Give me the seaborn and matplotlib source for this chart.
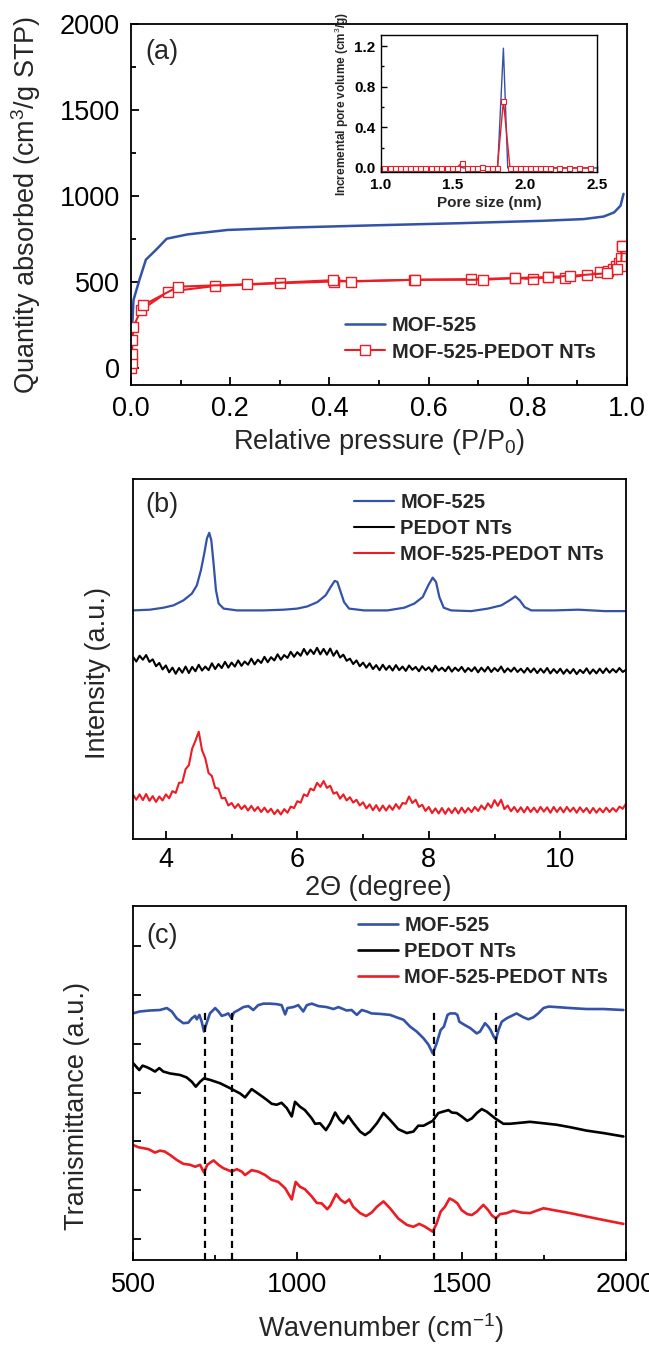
import numpy as np
import pandas as pd
import matplotlib
matplotlib.use("Agg")
import matplotlib.pyplot as plt
import seaborn as sns
from matplotlib.ticker import MultipleLocator

# ---------------- (a) N2 isotherms ----------------
mof_p = [0.001, 0.003, 0.005, 0.017, 0.030, 0.051, 0.072, 0.114, 0.195, 0.324, 0.492,
         0.660, 0.828, 0.912, 0.953, 0.974, 0.987, 0.993]
mof_q = [250, 276, 394, 512, 629, 688, 751, 776, 802, 816, 829, 841, 855, 865, 880, 904, 943, 1012]

comp_ads_p = [0.001, 0.002, 0.002, 0.003, 0.005, 0.020, 0.075, 0.170, 0.300, 0.410, 0.570,
              0.685, 0.775, 0.810, 0.840, 0.876, 0.920, 0.946, 0.961, 0.971, 0.978, 0.984,
              0.987, 0.990]
comp_ads_q = [0, 30, 80, 160, 240, 335, 443, 476, 492, 502, 512, 516, 522, 516, 528, 522,
              541, 555, 561, 575, 590, 610, 639, 708]
comp_des_p = [0.990, 0.988, 0.980, 0.960, 0.886, 0.840, 0.775, 0.709, 0.573, 0.443, 0.408,
              0.234, 0.095, 0.025]
comp_des_q = [708, 590, 575, 550, 535, 528, 522, 512, 512, 502, 510, 486, 472, 365]

# inset: pore size distribution
psd_mof_x = [1.00, 1.55, 1.56, 1.57, 1.81, 1.85, 1.88, 2.50]
psd_mof_y = [0.0, 0.0, 0.01, 0.0, 0.0, 1.18, 0.0, 0.0]
psd_comp_x = [1.018, 1.060, 1.095, 1.130, 1.165, 1.199, 1.234, 1.269, 1.304, 1.344, 1.385,
              1.420, 1.455, 1.490, 1.525, 1.560, 1.599, 1.634, 1.669, 1.704, 1.738, 1.773,
              1.808, 1.850, 1.896, 1.931, 1.966, 2.001, 2.036, 2.071, 2.106, 2.140, 2.175,
              2.238, 2.308, 2.377, 2.454]
psd_comp_y = [0, 0, 0, 0, 0, 0, 0, 0, 0, 0, 0, 0, 0, 0, 0, 0.05, 0, 0, 0, 0.01, 0, 0,
              0, 0.66, 0, 0, 0, 0, 0, 0, 0, 0, 0, 0, 0, 0, 0]

# ---------------- (b) XRD ----------------
xrd_mof_x = [3.505, 3.759, 3.963, 4.116, 4.268, 4.395, 4.472, 4.533, 4.584, 4.625, 4.660,
             4.691, 4.726, 4.762, 4.803, 4.879, 5.083, 5.490, 5.795, 5.999, 6.151, 6.304,
             6.431, 6.507, 6.568, 6.609, 6.660, 6.711, 6.787, 7.016, 7.372, 7.627, 7.780,
             7.907, 7.993, 8.059, 8.110, 8.161, 8.227, 8.339, 8.645, 8.899, 9.103, 9.230,
             9.316, 9.383, 9.459, 9.561, 9.917, 10.273, 10.680, 10.986]
xrd_mof_y = [63.5, 63.7, 64.25, 64.9, 66.3, 68.15, 70.5, 74.65, 79.3, 83.5, 85.05,
             83.0, 76.5, 69.1, 65.4, 64.0, 63.5, 63.5, 63.7, 64.0, 64.6, 65.8,
             67.7, 70.0, 71.7, 71.4, 68.6, 65.8, 64.0, 63.5, 63.5, 64.25, 65.4,
             67.2, 70.5, 72.6, 71.4, 67.2, 64.25, 63.5, 63.3, 64.0, 64.9, 66.3,
             67.4, 66.3, 64.4, 63.5, 63.5, 63.7, 63.3, 63.3]

xrd_grid = [3.50, 3.55, 3.60, 3.65, 3.70, 3.75, 3.80, 3.85, 3.90, 3.95,
            4.00, 4.05, 4.10, 4.15, 4.20, 4.25, 4.30, 4.35, 4.40, 4.45,
            4.50, 4.55, 4.60, 4.65, 4.70, 4.75, 4.80, 4.85, 4.90, 4.95,
            5.00, 5.05, 5.10, 5.15, 5.20, 5.25, 5.30, 5.35, 5.40, 5.45,
            5.50, 5.55, 5.60, 5.65, 5.70, 5.75, 5.80, 5.85, 5.90, 5.95,
            6.00, 6.05, 6.10, 6.15, 6.20, 6.25, 6.30, 6.35, 6.40, 6.45,
            6.50, 6.55, 6.60, 6.65, 6.70, 6.75, 6.80, 6.85, 6.90, 6.95,
            7.00, 7.05, 7.10, 7.15, 7.20, 7.25, 7.30, 7.35, 7.40, 7.45,
            7.50, 7.55, 7.60, 7.65, 7.70, 7.75, 7.80, 7.85, 7.90, 7.95,
            8.00, 8.05, 8.10, 8.15, 8.20, 8.25, 8.30, 8.35, 8.40, 8.45,
            8.50, 8.55, 8.60, 8.65, 8.70, 8.75, 8.80, 8.85, 8.90, 8.95,
            9.00, 9.05, 9.10, 9.15, 9.20, 9.25, 9.30, 9.35, 9.40, 9.45,
            9.50, 9.55, 9.60, 9.65, 9.70, 9.75, 9.80, 9.85, 9.90, 9.95,
            10.00, 10.05, 10.10, 10.15, 10.20, 10.25, 10.30, 10.35, 10.40, 10.45,
            10.50, 10.55, 10.60, 10.65, 10.70, 10.75, 10.80, 10.85, 10.90, 10.95,
            11.00]

xrd_pedot_y = [50.6, 49.3, 50.9, 49.8, 51.1, 49.2, 49.9, 48.0, 48.9, 47.1,
               48.2, 46.3, 47.6, 45.9, 47.5, 46.2, 47.9, 46.1, 47.8, 46.6,
               48.4, 46.8, 47.9, 46.9, 48.8, 47.2, 48.6, 47.5, 49.2, 47.6,
               49.0, 47.9, 49.6, 48.1, 49.3, 48.4, 50.1, 48.5, 49.8, 48.9,
               50.6, 49.1, 50.5, 49.6, 51.3, 49.8, 51.1, 50.3, 52.0, 50.6,
               51.9, 50.9, 52.8, 51.2, 52.6, 51.4, 53.1, 51.3, 52.8, 51.2,
               52.9, 50.9, 52.3, 50.4, 51.2, 49.5, 50.1, 48.6, 49.6, 48.0,
               49.0, 47.6, 48.8, 47.2, 48.3, 46.9, 48.4, 47.0, 48.1, 46.8,
               48.3, 46.9, 47.9, 46.7, 48.2, 47.0, 47.8, 46.6, 48.0, 46.9,
               47.7, 46.5, 48.1, 46.8, 47.6, 46.6, 47.9, 46.5, 47.6, 46.7,
               47.8, 46.4, 47.5, 46.6, 47.7, 46.3, 47.6, 46.5, 47.8, 46.4,
               47.5, 46.6, 47.9, 46.3, 47.4, 46.5, 47.6, 46.4, 47.3, 46.2,
               47.5, 46.3, 47.4, 46.1, 47.3, 46.2, 47.5, 46.0, 47.2, 46.1,
               47.3, 45.9, 47.1, 46.0, 47.2, 45.8, 47.0, 46.1, 47.4, 45.9,
               47.1, 46.0, 47.3, 46.1, 47.4, 46.2, 47.2, 46.3, 47.5, 46.4,
               47.0]

xrd_comp_y = [12.3, 10.9, 12.4, 10.8, 12.5, 10.6, 11.9, 10.3, 11.8, 10.7,
              12.4, 11.3, 13.3, 12.8, 15.6, 15.7, 19.4, 20.5, 25.1, 27.3,
              29.8, 24.7, 22.4, 18.3, 17.5, 14.2, 14.0, 11.3, 11.4, 9.3,
              10.0, 8.6, 9.7, 8.3, 9.3, 7.9, 9.2, 7.8, 8.9, 7.5,
              8.7, 7.4, 8.4, 6.9, 8.1, 6.8, 8.3, 7.3, 9.0, 8.6,
              10.5, 10.1, 12.4, 11.9, 14.0, 13.5, 15.6, 14.5, 16.1, 14.2,
              14.8, 12.6, 13.0, 11.2, 12.4, 10.7, 11.6, 10.1, 10.9, 9.3,
              10.2, 8.5, 9.6, 8.0, 9.4, 7.8, 9.3, 7.9, 9.3, 8.1,
              9.7, 8.4, 10.0, 9.8, 11.8, 10.0, 10.9, 8.9, 9.5, 7.8,
              8.9, 7.2, 8.5, 7.1, 8.6, 7.0, 8.5, 7.2, 8.6, 7.1,
              8.7, 7.3, 8.6, 7.5, 8.9, 7.8, 9.3, 8.2, 9.9, 8.7,
              10.8, 9.2, 10.9, 8.3, 9.3, 7.7, 8.9, 7.5, 8.8, 7.4,
              8.9, 7.5, 8.7, 7.4, 8.9, 7.6, 8.8, 7.3, 8.9, 7.5,
              8.8, 7.4, 8.9, 7.6, 8.7, 7.3, 8.8, 7.5, 8.6, 7.2,
              8.6, 7.3, 8.5, 7.4, 8.7, 7.5, 8.6, 7.6, 9.0, 8.4,
              9.8]

# ---------------- (c) FTIR ----------------
ir_mof_x = [499, 521, 552, 582, 603, 618, 633, 653, 668, 679, 689, 694, 702, 709, 716, 724,
            734, 750, 760, 770, 780, 790, 800, 807, 821, 836, 851, 866, 881, 897, 917, 937,
            952, 963, 970, 988, 1003, 1018, 1029, 1044, 1064, 1089, 1110, 1125, 1150, 1165,
            1181, 1196, 1211, 1226, 1252, 1282, 1302, 1323, 1343, 1363, 1384, 1399, 1412,
            1424, 1436, 1446, 1457, 1465, 1480, 1487, 1493, 1510, 1526, 1546, 1556, 1571,
            1581, 1588, 1597, 1604, 1612, 1622, 1637, 1652, 1667, 1688, 1703, 1718, 1733,
            1749, 1764, 1789, 1830, 1880, 1931, 1992]
ir_mof_y = [4.62, 4.66, 4.68, 4.69, 4.73, 4.66, 4.52, 4.42, 4.43, 4.52, 4.57, 4.50, 4.59,
            4.45, 4.25, 4.42, 4.62, 4.73, 4.66, 4.57, 4.59, 4.62, 4.52, 4.64, 4.69, 4.75,
            4.77, 4.69, 4.79, 4.82, 4.82, 4.81, 4.79, 4.60, 4.73, 4.75, 4.79, 4.66, 4.79,
            4.82, 4.77, 4.75, 4.71, 4.75, 4.68, 4.69, 4.59, 4.69, 4.66, 4.62, 4.61, 4.59,
            4.54, 4.49, 4.35, 4.25, 4.11, 3.98, 3.80, 4.01, 4.28, 4.35, 4.59, 4.62, 4.62,
            4.59, 4.45, 4.38, 4.32, 4.21, 4.25, 4.42, 4.35, 4.28, 4.15, 4.08, 4.28, 4.45,
            4.52, 4.57, 4.62, 4.54, 4.50, 4.54, 4.62, 4.73, 4.76, 4.75, 4.73, 4.71, 4.71,
            4.69]

ir_pedot_x = [499, 511, 519, 529, 542, 554, 567, 580, 592, 613, 643, 663, 679, 691, 704, 716,
              734, 765, 795, 826, 841, 861, 876, 897, 907, 922, 937, 952, 968, 983, 993,
              1008, 1023, 1044, 1054, 1069, 1087, 1100, 1115, 1128, 1140, 1155, 1171, 1191,
              1206, 1221, 1242, 1262, 1282, 1307, 1333, 1353, 1368, 1384, 1412, 1429, 1444,
              1460, 1470, 1485, 1500, 1517, 1531, 1546, 1561, 1576, 1602, 1627, 1647, 1678,
              1708, 1749, 1789, 1830, 1880, 1931, 1992]
ir_pedot_y = [3.61, 3.52, 3.46, 3.55, 3.52, 3.48, 3.43, 3.50, 3.43, 3.39, 3.36, 3.31, 3.22,
              3.12, 3.22, 3.29, 3.26, 3.19, 3.09, 2.98, 2.90, 3.07, 3.00, 2.90, 2.85, 2.77,
              2.75, 2.79, 2.68, 2.51, 2.81, 2.71, 2.64, 2.47, 2.36, 2.37, 2.23, 2.37, 2.59,
              2.45, 2.37, 2.52, 2.37, 2.20, 2.13, 2.20, 2.37, 2.58, 2.44, 2.25, 2.17, 2.20,
              2.32, 2.32, 2.42, 2.58, 2.61, 2.64, 2.59, 2.58, 2.51, 2.42, 2.47, 2.58, 2.66,
              2.61, 2.47, 2.36, 2.36, 2.38, 2.40, 2.37, 2.34, 2.29, 2.22, 2.17, 2.10]

ir_comp_x = [499, 516, 532, 547, 567, 582, 597, 613, 633, 653, 674, 689, 704, 716, 726, 745,
             760, 775, 790, 800, 816, 831, 841, 861, 881, 902, 922, 942, 963, 983, 995,
             1008, 1023, 1044, 1059, 1074, 1091, 1100, 1118, 1132, 1145, 1158, 1170, 1191,
             1209, 1226, 1242, 1262, 1282, 1307, 1333, 1353, 1371, 1389, 1412, 1424, 1436,
             1449, 1463, 1475, 1487, 1500, 1517, 1531, 1546, 1566, 1581, 1591, 1604, 1617,
             1637, 1657, 1683, 1708, 1728, 1749, 1789, 1830, 1880, 1931, 1992]
ir_comp_y = [1.93, 1.88, 1.86, 1.84, 1.77, 1.81, 1.79, 1.72, 1.62, 1.54, 1.52, 1.48, 1.52,
             1.36, 1.52, 1.61, 1.52, 1.45, 1.41, 1.38, 1.43, 1.38, 1.31, 1.41, 1.38, 1.31,
             1.21, 1.17, 1.04, 0.81, 1.17, 1.07, 1.02, 0.87, 0.74, 0.73, 0.61, 0.68, 0.92,
             0.80, 0.74, 0.81, 0.66, 0.53, 0.47, 0.54, 0.66, 0.77, 0.63, 0.42, 0.29, 0.25,
             0.31, 0.25, 0.15, 0.32, 0.56, 0.66, 0.83, 0.79, 0.73, 0.59, 0.51, 0.49, 0.56,
             0.70, 0.59, 0.49, 0.42, 0.51, 0.53, 0.58, 0.54, 0.53, 0.58, 0.63, 0.58, 0.53,
             0.46, 0.39, 0.31]

ir_marks = [718, 800, 1415, 1603]
ir_mark_top = 4.7

labels3 = ["MOF-525", "PEDOT NTs", "MOF-525-PEDOT NTs"]

BLUE = "#3352A8"
RED = "#ED1C24"
BLACK = "#000000"

# ---------------- style ----------------
sns.set_theme(style="ticks")
plt.rcParams['font.family'] = ['Liberation Sans', 'DejaVu Sans']
plt.rcParams['mathtext.fontset'] = 'custom'
plt.rcParams['mathtext.rm'] = 'Liberation Sans'
plt.rcParams['mathtext.it'] = 'Liberation Sans:italic'
plt.rcParams['mathtext.bf'] = 'Liberation Sans:bold'
plt.rcParams['axes.linewidth'] = 1.3
plt.rcParams['axes.edgecolor'] = 'black'

FS = 19.5
LFS = 14.5

fig = plt.figure(figsize=(6.49, 13.54), dpi=100)
W, H = 649.0, 1354.0


def box(l, t, r, b):
    return [l / W, 1 - b / H, (r - l) / W, (b - t) / H]


def style_ticks(ax, major=6, minor=3.5, width=1.3, pad=7, size=FS):
    ax.tick_params(which='both', direction='in', top=False, right=False,
                   width=width, colors='black')
    ax.tick_params(which='major', length=major, labelsize=size, pad=pad)
    ax.tick_params(which='minor', length=minor)
    for s in ax.spines.values():
        s.set_visible(True)
        s.set_linewidth(width)
        s.set_color('black')


# ---------------- panel (a) ----------------
axA = fig.add_axes(box(131, 24, 627, 385))
sns.lineplot(x=mof_p, y=mof_q, ax=axA, color=BLUE, lw=1.8, sort=False,
             estimator=None, label="MOF-525")
sns.lineplot(x=comp_ads_p, y=comp_ads_q, ax=axA, color=RED, lw=1.5, sort=False,
             estimator=None, marker='s', markersize=7.5, markerfacecolor='white',
             markeredgecolor=RED, markeredgewidth=1.0, label="MOF-525-PEDOT NTs")
sns.lineplot(x=comp_des_p, y=comp_des_q, ax=axA, color=RED, lw=1.5, sort=False,
             estimator=None, marker='s', markersize=7.5, markerfacecolor='white',
             markeredgecolor=RED, markeredgewidth=1.0)
axA.set_xlim(0, 1.0)
axA.set_ylim(-100, 2000)
axA.xaxis.set_major_locator(MultipleLocator(0.2))
axA.xaxis.set_minor_locator(MultipleLocator(0.1))
axA.yaxis.set_major_locator(MultipleLocator(500))
axA.yaxis.set_minor_locator(MultipleLocator(250))
axA.set_xticks([0, 0.2, 0.4, 0.6, 0.8, 1.0])
axA.set_xticklabels(["0.0", "0.2", "0.4", "0.6", "0.8", "1.0"])
style_ticks(axA, pad=8)
axA.set_xlabel("Relative pressure (P/P$_0$)", fontsize=FS)
axA.set_ylabel("Quantity absorbed (cm$^3$/g STP)", fontsize=FS)
axA.xaxis.set_label_coords(0.5, -0.115)
axA.yaxis.set_label_coords(-0.178, 0.5)
axA.text(0.0625, 0.922, "(a)", transform=axA.transAxes, fontsize=FS,
         ha='center', va='center')
axA.legend(loc='upper left', bbox_to_anchor=(0.431, 0.191), frameon=False,
           borderpad=0, borderaxespad=0, handlelength=2.0, handletextpad=0.35,
           labelspacing=0.37, prop={'weight': 'bold', 'size': LFS})

# inset
axI = fig.add_axes(box(381, 35, 597, 172))
sns.lineplot(x=psd_mof_x, y=psd_mof_y, ax=axI, color=BLUE, lw=1.0, sort=False,
             estimator=None)
sns.lineplot(x=psd_comp_x, y=psd_comp_y, ax=axI, color=RED, lw=1.0, sort=False,
             estimator=None, marker='s', markersize=3.6, markerfacecolor='white',
             markeredgecolor=RED, markeredgewidth=0.8)
axI.set_xlim(1.0, 2.5)
axI.set_ylim(-0.04, 1.31)
axI.xaxis.set_major_locator(MultipleLocator(0.5))
axI.xaxis.set_minor_locator(MultipleLocator(0.25))
axI.yaxis.set_major_locator(MultipleLocator(0.4))
axI.yaxis.set_minor_locator(MultipleLocator(0.2))
style_ticks(axI, major=4, minor=2.5, width=1.0, pad=4, size=11)
for t in axI.get_xticklabels() + axI.get_yticklabels():
    t.set_fontweight('bold')
axI.set_xlabel("Pore size (nm)", fontsize=11, fontweight='bold', labelpad=3)
axI.set_ylabel("Incremental pore volume (cm$^3$/g)", fontsize=8.5, fontweight='bold',
               labelpad=2)

# ---------------- panel (b) ----------------
axB = fig.add_axes(box(133, 479, 626, 839))
sns.lineplot(x=xrd_mof_x, y=xrd_mof_y, ax=axB, color=BLUE, lw=1.6, sort=False,
             estimator=None, label=labels3[0])
sns.lineplot(x=xrd_grid, y=xrd_pedot_y, ax=axB, color=BLACK, lw=1.5, sort=False,
             estimator=None, label=labels3[1])
sns.lineplot(x=xrd_grid, y=xrd_comp_y, ax=axB, color=RED, lw=1.5, sort=False,
             estimator=None, label=labels3[2])
axB.set_xlim(3.5, 11.0)
axB.set_ylim(0, 100)
axB.xaxis.set_major_locator(MultipleLocator(2))
axB.xaxis.set_minor_locator(MultipleLocator(1))
axB.set_yticks([])
style_ticks(axB, pad=6)
axB.set_xlabel("2\u0398 (degree)", fontsize=FS)
axB.set_ylabel("Intensity (a.u.)", fontsize=FS)
axB.xaxis.set_label_coords(0.497, -0.1)
axB.yaxis.set_label_coords(-0.045, 0.46)
axB.text(0.059, 0.928, "(b)", transform=axB.transAxes, fontsize=FS,
         ha='center', va='center')
axB.legend(loc='upper left', bbox_to_anchor=(0.448, 0.962), frameon=False,
           borderpad=0, borderaxespad=0, handlelength=2.0, handletextpad=0.3,
           labelspacing=0.35, prop={'weight': 'bold', 'size': LFS})

# ---------------- panel (c) ----------------
axC = fig.add_axes(box(133, 906, 626, 1260))
sns.lineplot(x=ir_mof_x, y=ir_mof_y, ax=axC, color=BLUE, lw=1.9, sort=False,
             estimator=None, label=labels3[0])
sns.lineplot(x=ir_pedot_x, y=ir_pedot_y, ax=axC, color=BLACK, lw=1.9, sort=False,
             estimator=None, label=labels3[1])
sns.lineplot(x=ir_comp_x, y=ir_comp_y, ax=axC, color=RED, lw=1.9, sort=False,
             estimator=None, label=labels3[2])
ymin_c, ymax_c = -0.43, 6.82
axC.vlines(ir_marks, ymin_c, ir_mark_top, colors='black', linestyles=(0, (3.2, 2.2)),
           lw=1.6, zorder=3)
axC.set_xlim(500, 2000)
axC.set_ylim(ymin_c, ymax_c)
axC.xaxis.set_major_locator(MultipleLocator(500))
axC.xaxis.set_minor_locator(MultipleLocator(250))
axC.set_yticks([0, 1, 2, 3, 4, 5, 6])
axC.set_yticklabels([])
style_ticks(axC, pad=9)
axC.set_xlabel("Wavenumber (cm$^{-1}$)", fontsize=FS)
axC.set_ylabel("Tranismittance (a.u.)", fontsize=FS)
axC.xaxis.set_label_coords(0.503, -0.145)
axC.yaxis.set_label_coords(-0.088, 0.435)
axC.text(0.059, 0.915, "(c)", transform=axC.transAxes, fontsize=FS,
         ha='center', va='center')
axC.legend(loc='upper left', bbox_to_anchor=(0.456, 0.972), frameon=False,
           borderpad=0, borderaxespad=0, handlelength=2.0, handletextpad=0.3,
           labelspacing=0.35, prop={'weight': 'bold', 'size': LFS})

fig.savefig("out.png", dpi=100)
